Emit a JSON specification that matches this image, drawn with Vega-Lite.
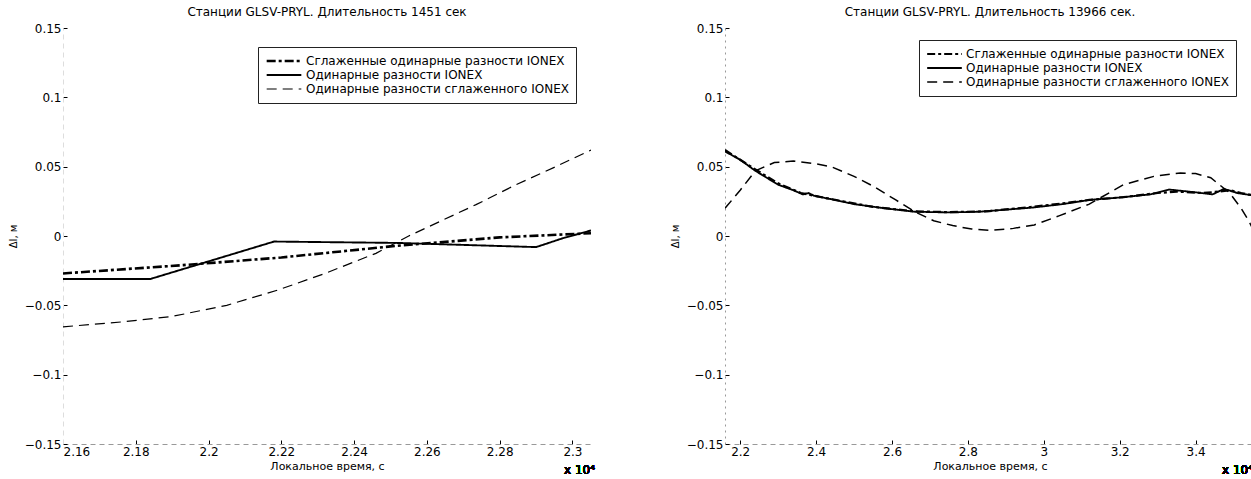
{
  "$schema": "https://vega.github.io/schema/vega-lite/v6.json",
  "padding": {"left": 8, "top": 6, "right": 0, "bottom": 0},
  "background": "white",
  "spacing": 75,
  "config": {
    "font": "DejaVu Sans",
    "view": {"stroke": null},
    "title": {"fontSize": 12, "fontWeight": "normal", "color": "black", "offset": 3, "font": "DejaVu Sans"},
    "axis": {
      "grid": false,
      "labelFont": "DejaVu Sans",
      "titleFont": "DejaVu Sans",
      "labelFontSize": 12,
      "labelColor": "black",
      "titleFontWeight": "normal",
      "titleColor": "black",
      "tickColor": "black",
      "domainColor": "#999",
      "domainDash": [5, 4],
      "tickSize": -4,
      "labelPadding": 6
    },
    "axisX": {"titleFontSize": 11, "titlePadding": 3},
    "axisY": {"titleFontSize": 10, "titlePadding": 6},
    "legend": {
      "orient": "none",
      "title": null,
      "strokeColor": "#222",
      "fillColor": "white",
      "padding": 7,
      "labelFont": "DejaVu Sans",
      "labelFontSize": 12,
      "labelColor": "black",
      "labelLimit": 400,
      "symbolType": "stroke",
      "symbolSize": 1200,
      "symbolStrokeColor": "black",
      "clipHeight": 14,
      "rowPadding": 0,
      "labelOffset": 3
    }
  },
  "datasets": {
    "left": [
      {"t": 21600, "v": -0.031, "s": "Одинарные разности IONEX"},
      {"t": 21840, "v": -0.031, "s": "Одинарные разности IONEX"},
      {"t": 22180, "v": -0.004, "s": "Одинарные разности IONEX"},
      {"t": 22520, "v": -0.005, "s": "Одинарные разности IONEX"},
      {"t": 22900, "v": -0.008, "s": "Одинарные разности IONEX"},
      {"t": 22975, "v": -0.0015, "s": "Одинарные разности IONEX"},
      {"t": 23051, "v": 0.004, "s": "Одинарные разности IONEX"},
      {"t": 21600, "v": -0.027, "s": "Сглаженные одинарные разности IONEX"},
      {"t": 21930, "v": -0.021, "s": "Сглаженные одинарные разности IONEX"},
      {"t": 22200, "v": -0.0155, "s": "Сглаженные одинарные разности IONEX"},
      {"t": 22500, "v": -0.0075, "s": "Сглаженные одинарные разности IONEX"},
      {"t": 22800, "v": -0.001, "s": "Сглаженные одинарные разности IONEX"},
      {"t": 23051, "v": 0.002, "s": "Сглаженные одинарные разности IONEX"},
      {"t": 21600, "v": -0.0655, "s": "Одинарные разности сглаженного IONEX"},
      {"t": 21760, "v": -0.062, "s": "Одинарные разности сглаженного IONEX"},
      {"t": 21900, "v": -0.058, "s": "Одинарные разности сглаженного IONEX"},
      {"t": 22050, "v": -0.05, "s": "Одинарные разности сглаженного IONEX"},
      {"t": 22190, "v": -0.039, "s": "Одинарные разности сглаженного IONEX"},
      {"t": 22320, "v": -0.027, "s": "Одинарные разности сглаженного IONEX"},
      {"t": 22460, "v": -0.0125, "s": "Одинарные разности сглаженного IONEX"},
      {"t": 22550, "v": 0.0, "s": "Одинарные разности сглаженного IONEX"},
      {"t": 22640, "v": 0.011, "s": "Одинарные разности сглаженного IONEX"},
      {"t": 22735, "v": 0.0226, "s": "Одинарные разности сглаженного IONEX"},
      {"t": 22845, "v": 0.037, "s": "Одинарные разности сглаженного IONEX"},
      {"t": 22950, "v": 0.0495, "s": "Одинарные разности сглаженного IONEX"},
      {"t": 23051, "v": 0.062, "s": "Одинарные разности сглаженного IONEX"}
    ],
    "right": [
      {"t": 21600, "v": 0.061, "s": "Одинарные разности IONEX"},
      {"t": 21800, "v": 0.058, "s": "Одинарные разности IONEX"},
      {"t": 22000, "v": 0.055, "s": "Одинарные разности IONEX"},
      {"t": 22400, "v": 0.047, "s": "Одинарные разности IONEX"},
      {"t": 23000, "v": 0.037, "s": "Одинарные разности IONEX"},
      {"t": 23400, "v": 0.033, "s": "Одинарные разности IONEX"},
      {"t": 23650, "v": 0.03, "s": "Одинарные разности IONEX"},
      {"t": 23800, "v": 0.031, "s": "Одинарные разности IONEX"},
      {"t": 23950, "v": 0.029, "s": "Одинарные разности IONEX"},
      {"t": 24500, "v": 0.026, "s": "Одинарные разности IONEX"},
      {"t": 25000, "v": 0.023, "s": "Одинарные разности IONEX"},
      {"t": 25800, "v": 0.02, "s": "Одинарные разности IONEX"},
      {"t": 26600, "v": 0.0175, "s": "Одинарные разности IONEX"},
      {"t": 27500, "v": 0.017, "s": "Одинарные разности IONEX"},
      {"t": 28300, "v": 0.0175, "s": "Одинарные разности IONEX"},
      {"t": 29000, "v": 0.019, "s": "Одинарные разности IONEX"},
      {"t": 29700, "v": 0.0205, "s": "Одинарные разности IONEX"},
      {"t": 30500, "v": 0.023, "s": "Одинарные разности IONEX"},
      {"t": 31200, "v": 0.026, "s": "Одинарные разности IONEX"},
      {"t": 32100, "v": 0.028, "s": "Одинарные разности IONEX"},
      {"t": 32800, "v": 0.03, "s": "Одинарные разности IONEX"},
      {"t": 33300, "v": 0.0335, "s": "Одинарные разности IONEX"},
      {"t": 34000, "v": 0.0315, "s": "Одинарные разности IONEX"},
      {"t": 34450, "v": 0.03, "s": "Одинарные разности IONEX"},
      {"t": 34750, "v": 0.034, "s": "Одинарные разности IONEX"},
      {"t": 35100, "v": 0.031, "s": "Одинарные разности IONEX"},
      {"t": 35566, "v": 0.029, "s": "Одинарные разности IONEX"},
      {"t": 21600, "v": 0.062, "s": "Сглаженные одинарные разности IONEX"},
      {"t": 22000, "v": 0.055, "s": "Сглаженные одинарные разности IONEX"},
      {"t": 22400, "v": 0.048, "s": "Сглаженные одинарные разности IONEX"},
      {"t": 23000, "v": 0.038, "s": "Сглаженные одинарные разности IONEX"},
      {"t": 23600, "v": 0.031, "s": "Сглаженные одинарные разности IONEX"},
      {"t": 24500, "v": 0.026, "s": "Сглаженные одинарные разности IONEX"},
      {"t": 25500, "v": 0.021, "s": "Сглаженные одинарные разности IONEX"},
      {"t": 26600, "v": 0.0178, "s": "Сглаженные одинарные разности IONEX"},
      {"t": 27500, "v": 0.0172, "s": "Сглаженные одинарные разности IONEX"},
      {"t": 28500, "v": 0.0178, "s": "Сглаженные одинарные разности IONEX"},
      {"t": 29700, "v": 0.021, "s": "Сглаженные одинарные разности IONEX"},
      {"t": 30500, "v": 0.0235, "s": "Сглаженные одинарные разности IONEX"},
      {"t": 31200, "v": 0.026, "s": "Сглаженные одинарные разности IONEX"},
      {"t": 32100, "v": 0.028, "s": "Сглаженные одинарные разности IONEX"},
      {"t": 33000, "v": 0.031, "s": "Сглаженные одинарные разности IONEX"},
      {"t": 33500, "v": 0.032, "s": "Сглаженные одинарные разности IONEX"},
      {"t": 34200, "v": 0.031, "s": "Сглаженные одинарные разности IONEX"},
      {"t": 34600, "v": 0.032, "s": "Сглаженные одинарные разности IONEX"},
      {"t": 34900, "v": 0.033, "s": "Сглаженные одинарные разности IONEX"},
      {"t": 35200, "v": 0.031, "s": "Сглаженные одинарные разности IONEX"},
      {"t": 35566, "v": 0.029, "s": "Сглаженные одинарные разности IONEX"},
      {"t": 21600, "v": 0.02, "s": "Одинарные разности сглаженного IONEX"},
      {"t": 22000, "v": 0.033, "s": "Одинарные разности сглаженного IONEX"},
      {"t": 22400, "v": 0.047, "s": "Одинарные разности сглаженного IONEX"},
      {"t": 22900, "v": 0.053, "s": "Одинарные разности сглаженного IONEX"},
      {"t": 23400, "v": 0.054, "s": "Одинарные разности сглаженного IONEX"},
      {"t": 24000, "v": 0.052, "s": "Одинарные разности сглаженного IONEX"},
      {"t": 24400, "v": 0.05, "s": "Одинарные разности сглаженного IONEX"},
      {"t": 25000, "v": 0.043, "s": "Одинарные разности сглаженного IONEX"},
      {"t": 25500, "v": 0.036, "s": "Одинарные разности сглаженного IONEX"},
      {"t": 26100, "v": 0.026, "s": "Одинарные разности сглаженного IONEX"},
      {"t": 26600, "v": 0.0175, "s": "Одинарные разности сглаженного IONEX"},
      {"t": 27100, "v": 0.011, "s": "Одинарные разности сглаженного IONEX"},
      {"t": 27600, "v": 0.0075, "s": "Одинарные разности сглаженного IONEX"},
      {"t": 28100, "v": 0.005, "s": "Одинарные разности сглаженного IONEX"},
      {"t": 28600, "v": 0.004, "s": "Одинарные разности сглаженного IONEX"},
      {"t": 29200, "v": 0.0055, "s": "Одинарные разности сглаженного IONEX"},
      {"t": 29750, "v": 0.008, "s": "Одинарные разности сглаженного IONEX"},
      {"t": 30400, "v": 0.0145, "s": "Одинарные разности сглаженного IONEX"},
      {"t": 31200, "v": 0.023, "s": "Одинарные разности сглаженного IONEX"},
      {"t": 32100, "v": 0.037, "s": "Одинарные разности сглаженного IONEX"},
      {"t": 32900, "v": 0.043, "s": "Одинарные разности сглаженного IONEX"},
      {"t": 33600, "v": 0.0455, "s": "Одинарные разности сглаженного IONEX"},
      {"t": 34000, "v": 0.045, "s": "Одинарные разности сглаженного IONEX"},
      {"t": 34400, "v": 0.042, "s": "Одинарные разности сглаженного IONEX"},
      {"t": 34900, "v": 0.031, "s": "Одинарные разности сглаженного IONEX"},
      {"t": 35200, "v": 0.02, "s": "Одинарные разности сглаженного IONEX"},
      {"t": 35400, "v": 0.011, "s": "Одинарные разности сглаженного IONEX"},
      {"t": 35566, "v": 0.002, "s": "Одинарные разности сглаженного IONEX"}
    ]
  },
  "resolve": {
    "scale": {"strokeDash": "independent", "strokeWidth": "independent"},
    "legend": {"strokeDash": "independent", "strokeWidth": "independent"}
  },
  "hconcat": [
    {
      "width": 528,
      "height": 416,
      "title": {"text": "Станции GLSV-PRYL. Длительность 1451 сек"},
      "data": {"name": "left"},
      "layer": [
        {
          "mark": {"type": "line", "color": "black", "clip": true},
          "encoding": {
            "x": {"field": "t", "type": "quantitative", "scale": {"domain": [21600, 23051], "nice": false, "zero": false},
              "axis": {"title": "Локальное время, с", "values": [21600, 21800, 22000, 22200, 22400, 22600, 22800, 23000], "labelExpr": "format(datum.value / 10000, '.3~g')"}},
            "y": {"field": "v", "type": "quantitative", "scale": {"domain": [-0.15, 0.15], "nice": false},
              "axis": {"title": "ΔI, м", "values": [-0.15, -0.1, -0.05, 0, 0.05, 0.1, 0.15], "labelExpr": "format(datum.value, '~g')", "domainColor": "#ddd"}},
            "strokeDash": {"field": "s", "type": "nominal",
              "scale": {"domain": ["Сглаженные одинарные разности IONEX", "Одинарные разности IONEX", "Одинарные разности сглаженного IONEX"], "range": [[9, 3, 3, 3], [1, 0], [10, 6]]},
              "legend": {"legendX": 195, "legendY": 19}},
            "strokeWidth": {"field": "s", "type": "nominal",
              "scale": {"domain": ["Сглаженные одинарные разности IONEX", "Одинарные разности IONEX", "Одинарные разности сглаженного IONEX"], "range": [2.6, 1.2, 1.3]},
              "legend": {"legendX": 195, "legendY": 19}}
          }
        },
        {
          "mark": {"type": "text", "align": "right", "baseline": "top", "fontSize": 12, "fontWeight": "normal", "dy": 21, "dx": 4, "color": "black"},
          "encoding": {"x": {"datum": 23051}, "y": {"datum": -0.15}, "text": {"value": "x 10⁴"}}
        }
      ]
    },
    {
      "width": 530,
      "height": 416,
      "title": {"text": "Станции GLSV-PRYL. Длительность 13966 сек."},
      "data": {"name": "right"},
      "layer": [
        {
          "mark": {"type": "line", "color": "black", "clip": true},
          "encoding": {
            "x": {"field": "t", "type": "quantitative", "scale": {"domain": [21600, 35566], "nice": false, "zero": false},
              "axis": {"title": "Локальное время, с", "values": [22000, 24000, 26000, 28000, 30000, 32000, 34000], "labelExpr": "format(datum.value / 10000, '.3~g')"}},
            "y": {"field": "v", "type": "quantitative", "scale": {"domain": [-0.15, 0.15], "nice": false},
              "axis": {"title": "ΔI, м", "values": [-0.15, -0.1, -0.05, 0, 0.05, 0.1, 0.15], "labelExpr": "format(datum.value, '~g')", "domainDash": [2, 4]}},
            "strokeDash": {"field": "s", "type": "nominal",
              "scale": {"domain": ["Сглаженные одинарные разности IONEX", "Одинарные разности IONEX", "Одинарные разности сглаженного IONEX"], "range": [[8, 3, 3, 3], [1, 0], [10, 6]]},
              "legend": {"legendX": 194, "legendY": 12}},
            "strokeWidth": {"field": "s", "type": "nominal",
              "scale": {"domain": ["Сглаженные одинарные разности IONEX", "Одинарные разности IONEX", "Одинарные разности сглаженного IONEX"], "range": [2.2, 1.5, 1.4]},
              "legend": {"legendX": 194, "legendY": 12}}
          }
        },
        {
          "mark": {"type": "text", "align": "right", "baseline": "top", "fontSize": 12, "fontWeight": "normal", "dy": 21, "dx": -2, "color": "black"},
          "encoding": {"x": {"datum": 35566}, "y": {"datum": -0.15}, "text": {"value": "x 10⁴"}}
        }
      ]
    }
  ]
}
